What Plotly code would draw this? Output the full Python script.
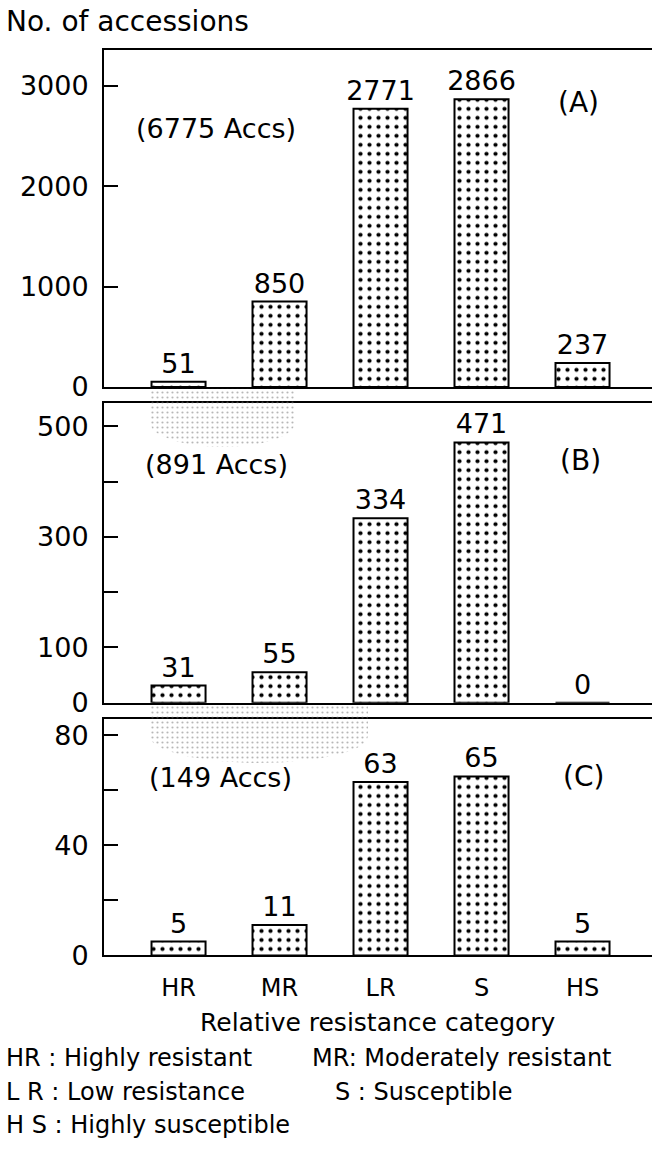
import numpy as np
import plotly.graph_objects as go

W, H = 652, 1151
FONT = "DejaVu Sans"

# ---------------- data ----------------
categories = ["HR", "MR", "LR", "S", "HS"]
counts_a = [51, 850, 2771, 2866, 237]
counts_b = [31, 55, 334, 471, 0]
counts_c = [5, 11, 63, 65, 5]

panel_tags = ["(A)", "(B)", "(C)"]
panel_totals = ["(6775 Accs)", "(891 Accs)", "(149 Accs)"]

ticks_a = [0, 1000, 2000, 3000]
ticklabels_a = ["0", "1000", "2000", "3000"]
ticks_b = [0, 100, 200, 300, 400, 500]
ticklabels_b = ["0", "100", "", "300", "", "500"]
ticks_c = [0, 20, 40, 60, 80]
ticklabels_c = ["0", "", "40", "", "80"]

y_title = "No. of accessions"
x_title = "Relative resistance category"
legend_left = ["HR : Highly resistant", "L R : Low resistance", "H S : Highly susceptible"]
legend_right = ["MR: Moderately resistant", "S : Susceptible"]

# ---------------- layout geometry (pixels) ----------------
AX_LEFT = 104
panels = [  # (top px, bottom px, y max)
    (51, 392, 3353),
    (408, 712, 543),
    (729, 968, 85.7),
]


def ydom(top, bottom):
    return [1 - bottom / H, 1 - top / H]


xdom = [AX_LEFT / W, 1.0]
xrange_ = [-0.738, 4.688]

fig = go.Figure()

data_sets = [counts_a, counts_b, counts_c]
axis_ids = ["3", "2", ""]  # A on top -> axis 3, C bottom -> axis 1

for vals, aid in zip(data_sets, axis_ids):
    fig.add_trace(go.Bar(
        x=categories, y=vals,
        xaxis="x" + aid, yaxis="y" + aid,
        width=0.535,
        marker=dict(
            color="white",
            line=dict(color="black", width=2),
            pattern=dict(shape=".", fgcolor="black", bgcolor="white",
                         size=9, solidity=0.17, fillmode="replace"),
        ),
        text=[str(v) for v in vals],
        textposition="outside",
        constraintext="none",
        textfont=dict(family=FONT, size=27, color="black"),
        cliponaxis=False,
        showlegend=False,
        hoverinfo="skip",
    ))

# decorative stippled funnels between panels (overlay pixel axes)
def funnel(x0, x1, ytop, yrect, ybot):
    cx = (x0 + x1) / 2
    rx = (x1 - x0) / 2
    t = np.linspace(0, np.pi, 40)
    ex = cx + rx * np.cos(t)
    ey = yrect + (ybot - yrect) * np.sin(t)
    xs = [x0, x1] + list(ex) + [x0]
    ys = [ytop, ytop] + list(ey) + [ytop]
    return xs, ys


for (x0, x1, ytop, yrect, ybot) in [(150, 295, 394, 428, 453), (150, 368, 714, 746, 773)]:
    fx, fy = funnel(x0, x1, ytop, yrect, ybot)
    fig.add_trace(go.Scatter(
        x=fx, y=fy, xaxis="x4", yaxis="y4",
        mode="lines", line=dict(width=0, color="rgba(0,0,0,0)"),
        fill="toself", fillcolor="rgba(255,255,255,0)",
        fillpattern=dict(shape=".", fgcolor="#707070", bgcolor="rgba(255,255,255,0)",
                         size=5, solidity=0.15, fillmode="overlay"),
        showlegend=False, hoverinfo="skip",
    ))

axis_common = dict(showline=True, linecolor="black", linewidth=2,
                   showgrid=False, zeroline=False)

layout = dict(
    width=W, height=H,
    margin=dict(l=0, r=0, t=0, b=0),
    paper_bgcolor="white", plot_bgcolor="rgba(0,0,0,0)",
    font=dict(family=FONT, color="black"),
    bargap=0.46,
    showlegend=False,
)

tick_sets = [(ticks_a, ticklabels_a), (ticks_b, ticklabels_b), (ticks_c, ticklabels_c)]
for (top, bottom, ymax), aid, (tv, tt) in zip(panels, axis_ids, tick_sets):
    xname = "xaxis" + aid
    yname = "yaxis" + aid
    layout[xname] = dict(
        domain=xdom, anchor="y" + aid, range=xrange_,
        type="category", mirror=True, ticks="",
        showticklabels=(aid == ""),
        tickfont=dict(family=FONT, size=24, color="black"),
        ticklabelstandoff=10,
        fixedrange=True,
        **axis_common,
    )
    layout[yname] = dict(
        domain=ydom(top, bottom), anchor="x" + aid, range=[0, ymax],
        tickvals=tv, ticktext=tt, ticks="inside", ticklen=14, tickwidth=2,
        tickcolor="black",
        tickfont=dict(family=FONT, size=27, color="black"),
        ticklabelstandoff=8,
        fixedrange=True,
        **axis_common,
    )

layout["xaxis4"] = dict(domain=[0, 1], anchor="y4", range=[0, W], visible=False, fixedrange=True)
layout["yaxis4"] = dict(domain=[0, 1], anchor="x4", range=[H, 0], visible=False, fixedrange=True)

annotations = []


def add_text(text, x, y, size, xanchor="center"):
    annotations.append(dict(
        text=text, x=x, y=y, xref="x4", yref="y4",
        xanchor=xanchor, yanchor="middle", showarrow=False,
        font=dict(family=FONT, size=size, color="black"),
    ))


add_text(y_title, 4, 22, 28, "left")
for tag, (tx, ty) in zip(panel_tags, [(578, 104), (580, 467), (583, 787)]):
    add_text(tag, tx, ty, 28)
for tot, (tx, ty) in zip(panel_totals, [(216, 130), (216, 471), (220, 788)]):
    add_text(tot, tx, ty, 27)
add_text(x_title, 378, 1036, 25)
for line, ly in zip(legend_left, [1072, 1106, 1140]):
    add_text(line, 4, ly, 24, "left")
for line, (lx, ly) in zip(legend_right, [(310, 1072), (333, 1106)]):
    add_text(line, lx, ly, 24, "left")

layout["annotations"] = annotations
fig.update_layout(**layout)

fig.write_html("out.html")
